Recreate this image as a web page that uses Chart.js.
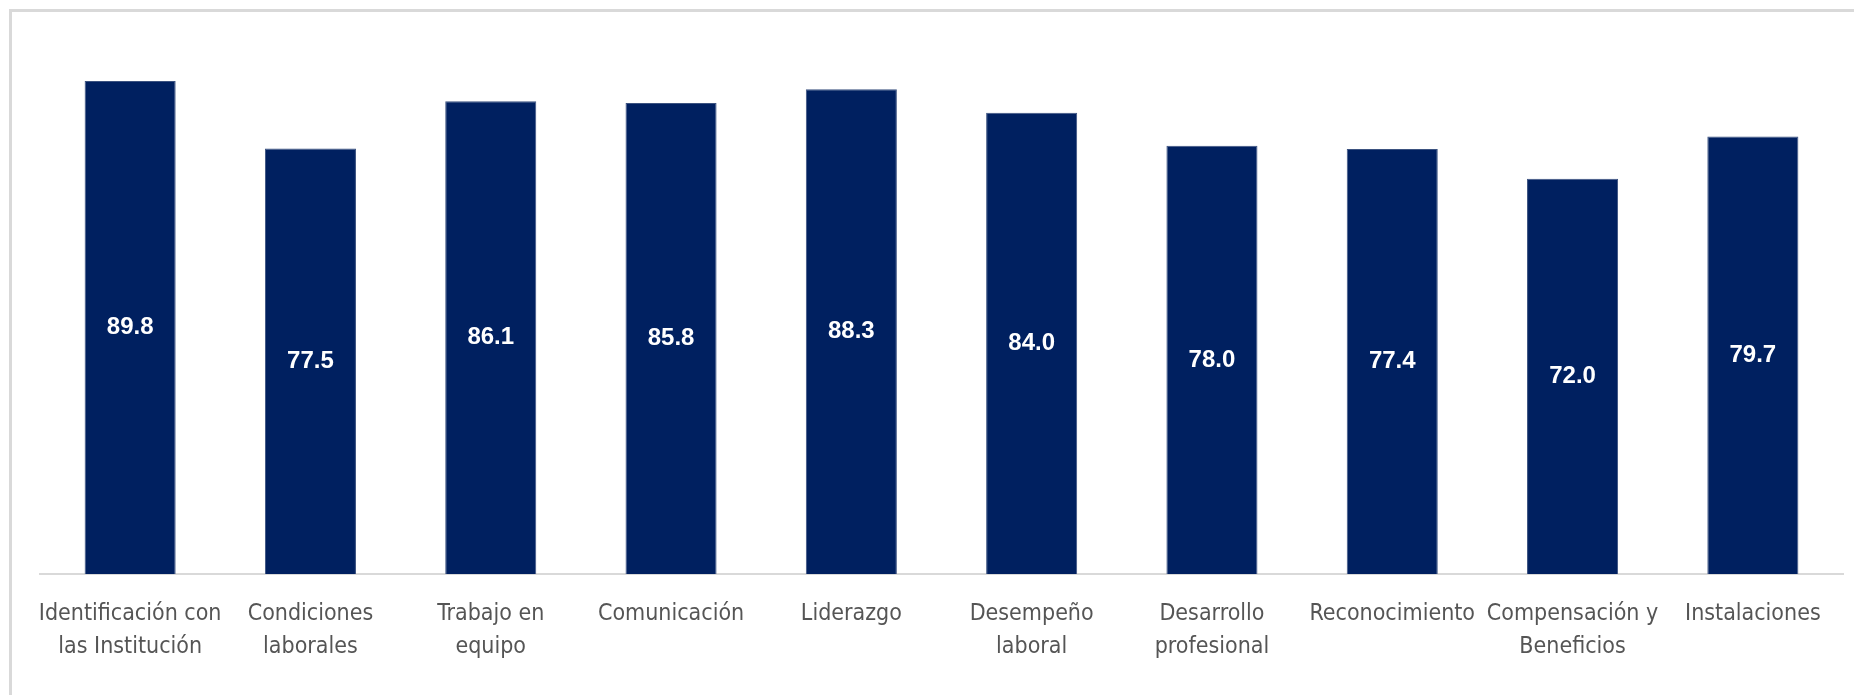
<!DOCTYPE html>
<html>
<head>
<meta charset="utf-8">
<script src="https://cdn.jsdelivr.net/npm/chart.js@4/dist/chart.umd.min.js"></script>
<style>
  html, body { margin: 0; padding: 0; background: #ffffff; overflow: hidden; }
  #frame { position: absolute; left: 9px; top: 9px; width: 1900px; height: 760px;
           border-left: 3px solid #d9d9d9; border-top: 3px solid #d9d9d9; }
  #wrap { position: absolute; left: 0; top: 0; width: 1854px; height: 695px; }
</style>
</head>
<body>
<div id="frame"></div>
<div id="wrap"><canvas id="c" width="1854" height="695"></canvas></div>
<script>
const categories = [
  ["Identificación con", "las Institución"],
  ["Condiciones", "laborales"],
  ["Trabajo en", "equipo"],
  "Comunicación",
  "Liderazgo",
  ["Desempeño", "laboral"],
  ["Desarrollo", "profesional"],
  "Reconocimiento",
  ["Compensación y", "Beneficios"],
  "Instalaciones"
];
const scores = [89.8, 77.5, 86.1, 85.8, 88.3, 84.0, 78.0, 77.4, 72.0, 79.7];
const yMin = 0;
const yMax = 100;

const fontFamily = "'DejaVu Sans Condensed', 'Liberation Sans Narrow', 'Liberation Sans', sans-serif";
const valueFont = "bold 24px 'Liberation Sans', Arial, sans-serif";

const centerLabels = {
  id: 'centerLabels',
  afterDatasetsDraw(chart) {
    const ctx = chart.ctx;
    const meta = chart.getDatasetMeta(0);
    ctx.save();
    ctx.fillStyle = '#ffffff';
    ctx.font = valueFont;
    ctx.textAlign = 'center';
    ctx.textBaseline = 'middle';
    meta.data.forEach((el, i) => {
      const v = chart.data.datasets[0].data[i];
      ctx.fillText(v.toFixed(1), el.x, (el.y + el.base) / 2);
    });
    ctx.restore();
  }
};

new Chart(document.getElementById('c'), {
  type: 'bar',
  data: {
    labels: categories,
    datasets: [{
      data: scores,
      backgroundColor: '#002060',
      borderColor: '#3b5280',
      borderWidth: 1,
      borderSkipped: 'bottom',
      barPercentage: 0.505,
      categoryPercentage: 1.0
    }]
  },
  options: {
    responsive: false,
    animation: false,
    devicePixelRatio: 1,
    layout: { padding: { left: 40, right: 11, top: 25, bottom: 0 } },
    plugins: { legend: { display: false }, tooltip: { enabled: false } },
    scales: {
      x: {
        grid: { display: false, drawTicks: false },
        border: { display: true, color: '#d9d9d9', width: 2 },
        ticks: {
          color: '#555555',
          font: { family: fontFamily, size: 23, lineHeight: 1.43 },
          padding: 24,
          maxRotation: 0,
          minRotation: 0,
          autoSkip: false
        },
        afterFit(scale) { scale.height = 121; }
      },
      y: {
        display: false,
        min: yMin,
        max: yMax
      }
    }
  },
  plugins: [centerLabels]
});
</script>
</body>
</html>
